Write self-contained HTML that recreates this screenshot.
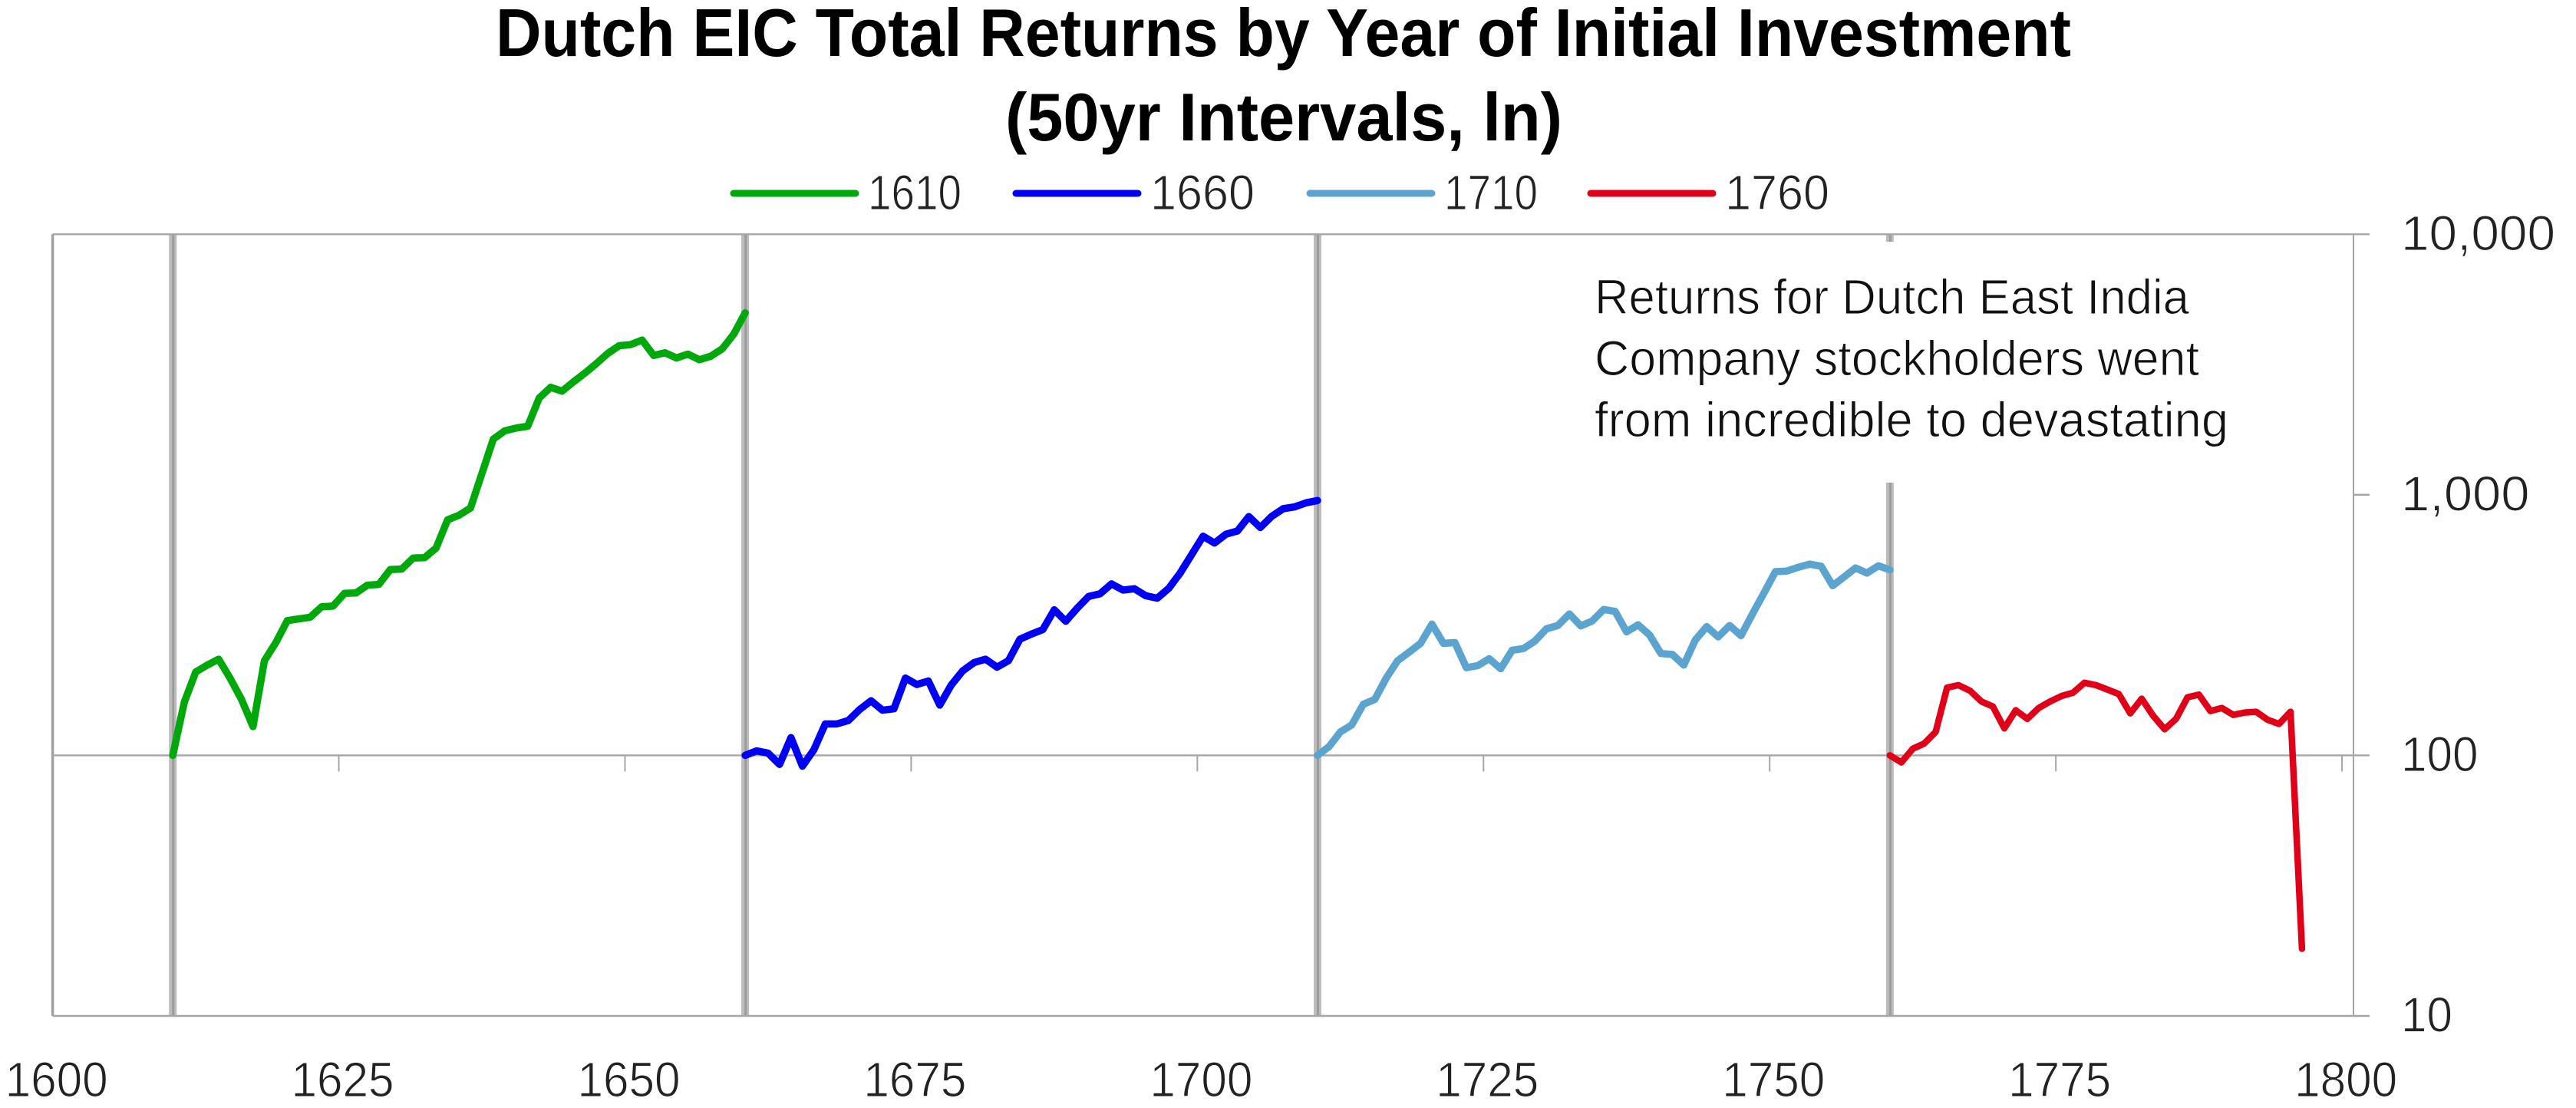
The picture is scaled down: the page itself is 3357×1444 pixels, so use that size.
<!DOCTYPE html>
<html lang="en">
<head>
<meta charset="utf-8">
<title>Dutch EIC Total Returns by Year of Initial Investment</title>
<style>
html,body{margin:0;padding:0;background:#fff;width:3357px;height:1444px;overflow:hidden}
svg{display:block}
text{font-family:"Liberation Sans",sans-serif}
.light{stroke:#fff;stroke-width:1.1px}
</style>
</head>
<body>
<svg id="chart" xmlns="http://www.w3.org/2000/svg" width="3357" height="1444" viewBox="0 0 3357 1444">
  <rect x="0" y="0" width="3357" height="1444" fill="#fff"/>
  <g id="bars"></g>
  <g id="axes"></g>
  <rect x="2040" y="315" width="900" height="314" fill="#fff"/>
  <g id="series"></g>
  <text x="646" y="73" font-size="88" font-weight="700" fill="#000" textLength="2053" lengthAdjust="spacingAndGlyphs">Dutch EIC Total Returns by Year of Initial Investment</text>
  <text x="1310" y="183" font-size="88" font-weight="700" fill="#000" textLength="726" lengthAdjust="spacingAndGlyphs">(50yr Intervals, ln)</text>
  <g fill="#111" font-size="64">
    <text class="light" x="2078" y="409" textLength="775" lengthAdjust="spacingAndGlyphs">Returns for Dutch East India</text>
    <text class="light" x="2078" y="489" textLength="788" lengthAdjust="spacingAndGlyphs">Company stockholders went</text>
    <text class="light" x="2078" y="569" textLength="826" lengthAdjust="spacingAndGlyphs">from incredible to devastating</text>
  </g>
  <g id="legend"></g>
</svg>
<script>
const xTickYears = [1600, 1625, 1650, 1675, 1700, 1725, 1750, 1775, 1800];
const yTickValues = [10, 100, 1000, 10000];
const yTickLabels = ["10", "100", "1,000", "10,000"];
const yGridValues = [10, 100, 10000];
const markerYears = [1610, 1660, 1710, 1760];
const seriesNames = ["1610", "1660", "1710", "1760"];
const startYears = [1610, 1660, 1710, 1760];
const seriesColors = ["#00a80c", "#0000f5", "#5ba4d0", "#e00018"];

const values1610 = [100,160,209,222,234,198,164,129,231,271,329,334,339,372,374,419,420,450,453,517,519,572,574,625,802,835,890,1207,1637,1760,1805,1833,2351,2585,2499,2712,2933,3190,3491,3737,3771,3926,3428,3508,3351,3467,3300,3405,3637,4136,4991];
const values1660 = [100,104,102,92.3,117,90.9,105,132,132,136,150,162,149,151,198,187,193,156,186,211,227,234,218,231,279,292,304,362,327,367,407,417,455,431,436,410,401,437,501,589,693,653,706,726,825,749,827,884,899,932,951];
const values1710 = [100,108,123,131,157,164,198,231,249,269,319,269,271,217,221,235,215,253,257,275,306,315,349,314,328,363,357,298,317,290,246,244,222,277,312,285,315,288,349,420,507,510,527,542,532,448,484,524,501,534,515];
const values1760 = [100,94,106,111,123,182,186,177,161,154,127,149,138,152,161,169,174,190,186,179,172,145,165,142,126,138,167,171,148,152,143,146,147,137,132,147,18.1];
const seriesValues = [values1610, values1660, values1710, values1760];

const SVG_NS = "http://www.w3.org/2000/svg";
const plotLeft = 68.6, plotRight = 3067, plotTop = 305.3, plotBottom = 1324;
const firstYear = 1600, categoryCount = 201;
const yearStep = (plotRight - plotLeft) / categoryCount;
const minLog = 1, maxLog = 4;
const axisColor = "#a6a6a6";

function xCenter(year) { return plotLeft + (year - firstYear + 0.5) * yearStep; }
function xEdge(year) { return plotLeft + (year - firstYear) * yearStep; }
function yScale(value) { return plotBottom - (Math.log10(value) - minLog) / (maxLog - minLog) * (plotBottom - plotTop); }

function makeLine(x1, y1, x2, y2, color, width) {
  const el = document.createElementNS(SVG_NS, "line");
  el.setAttribute("x1", x1);
  el.setAttribute("y1", y1);
  el.setAttribute("x2", x2);
  el.setAttribute("y2", y2);
  el.setAttribute("stroke", color);
  el.setAttribute("stroke-width", width);
  return el;
}
function makeText(x, y, size, anchor, content, length) {
  const el = document.createElementNS(SVG_NS, "text");
  el.setAttribute("x", x);
  el.setAttribute("y", y);
  el.setAttribute("font-size", size);
  el.setAttribute("text-anchor", anchor);
  el.setAttribute("fill", "#222");
  el.setAttribute("class", "light");
  el.setAttribute("textLength", length);
  el.setAttribute("lengthAdjust", "spacingAndGlyphs");
  el.textContent = content;
  return el;
}

const barsGroup = document.getElementById("bars");
markerYears.forEach(function (year) {
  const x = xCenter(year);
  const band = makeLine(x, plotTop, x, plotBottom, "#bcbcbc", 10);
  
  
  barsGroup.appendChild(band);
  const core = makeLine(x + 0.5, plotTop, x + 0.5, plotBottom, "#9c9c9c", 3);
  
  
  barsGroup.appendChild(core);
});

const axesGroup = document.getElementById("axes");
const leftAxis = makeLine(plotLeft, plotTop, plotLeft, plotBottom, "#a0a0a0", 3.5);


axesGroup.appendChild(leftAxis);
const rightAxis = makeLine(plotRight, plotTop, plotRight, plotBottom, axisColor, 2);


axesGroup.appendChild(rightAxis);

yGridValues.forEach(function (value) {
  const y = yScale(value);
  const grid = makeLine(plotLeft, y, plotRight, y, axisColor, 2.4);
  
  
  axesGroup.appendChild(grid);
});

yTickValues.forEach(function (value, i) {
  const y = yScale(value);
  const tick = makeLine(plotRight, y, plotRight + 21, y, axisColor, 2.4);
  
  
  axesGroup.appendChild(tick);
  const text = yTickLabels[i];
  const label = makeText(3129, y + 20.5, 64, "start", text, text.length * 33.5);
  
  
  axesGroup.appendChild(label);
});

xTickYears.forEach(function (year) {
  const x = xEdge(year);
  if (year > firstYear) {
    const tick = makeLine(x, yScale(100), x, yScale(100) + 21, axisColor, 2);
    
    
    axesGroup.appendChild(tick);
  }
  const label = makeText(x + 5, 1429, 64, "middle", String(year), 134);
  
  
  axesGroup.appendChild(label);
});

const seriesGroup = document.getElementById("series");
seriesValues.forEach(function (values, s) {
  const pts = values.map(function (v, i) {
    return xCenter(startYears[s] + i).toFixed(1) + "," + yScale(v).toFixed(1);
  }).join(" ");
  const line = document.createElementNS(SVG_NS, "polyline");
  line.setAttribute("points", pts);
  line.setAttribute("fill", "none");
  line.setAttribute("stroke", seriesColors[s]);
  line.setAttribute("stroke-width", s === 3 ? 8.5 : 9.5);
  line.setAttribute("stroke-linejoin", "round");
  line.setAttribute("stroke-linecap", "round");
  
  
  seriesGroup.appendChild(line);
});

const legendGroup = document.getElementById("legend");
const legendLeft = 952, legendSwatch = 167;
const legendOffsets = [0, 368, 751, 1117];
seriesNames.forEach(function (name, s) {
  const x = legendLeft + legendOffsets[s];
  const swatch = makeLine(x + 4, 252, x + legendSwatch - 4, 252, seriesColors[s], 9);
  swatch.setAttribute("stroke-linecap", "round");
  
  
  legendGroup.appendChild(swatch);
  const oneCount = name.split("1").length - 1;
  const label = makeText(x + legendSwatch + 12, 273, 64, "start", name, 150 - 14 * oneCount);
  
  
  legendGroup.appendChild(label);
});
</script>
</body>
</html>
